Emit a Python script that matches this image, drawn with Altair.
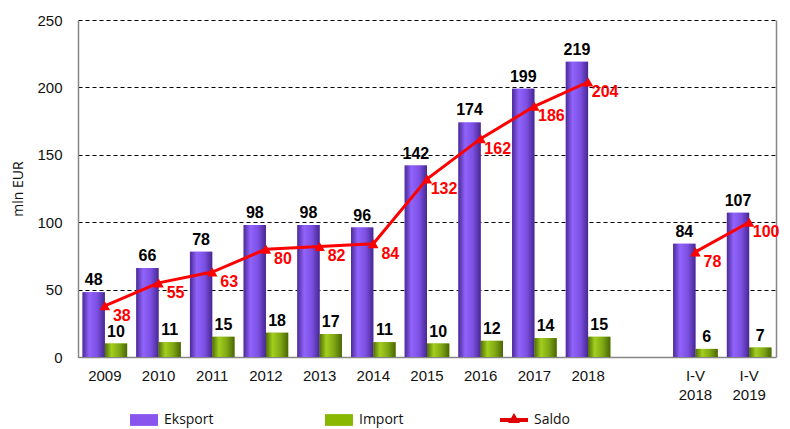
import altair as alt
import pandas as pd

categories = ["2009", "2010", "2011", "2012", "2013", "2014", "2015", "2016",
              "2017", "2018", "I-V|2018", "I-V|2019"]
periods = ["annual"] * 10 + ["I-V"] * 2
eksport = [48, 66, 78, 98, 98, 96, 142, 174, 199, 219, 84, 107]
imports = [10, 11, 15, 18, 17, 11, 10, 12, 14, 15, 6, 7]
saldo = [38, 55, 63, 80, 82, 84, 132, 162, 186, 204, 78, 100]
x_domain = categories[:10] + [" "] + categories[10:]
y_ticks = [0, 50, 100, 150, 200, 250]

bars = pd.DataFrame({
    "cat": categories * 2,
    "series": ["Eksport"] * len(categories) + ["Import"] * len(categories),
    "value": eksport + imports,
})
line = pd.DataFrame({"cat": categories, "series": "Saldo", "value": saldo, "period": periods})

FONT = "Liberation Sans"
RECT = "M-1,-0.42H1V0.42H-1Z"
SALDO_SYM = "M-1,-0.15H1V0.15H-1Z M-0.42,0.22L0,-0.5L0.42,0.22Z"

x_enc = alt.X(
    "cat:N",
    sort=x_domain,
    scale=alt.Scale(domain=x_domain, paddingInner=0.17, paddingOuter=0.085),
    axis=alt.Axis(title=None, labelExpr="split(datum.label, '|')", labelAngle=0,
                  ticks=False, domainColor="#868686", domainWidth=1.5,
                  labelFontSize=15, labelPadding=11, labelLineHeight=19,
                  labelFont=FONT, labelColor="#111"),
)
xoff = alt.XOffset("series:N", scale=alt.Scale(domain=["Eksport", "Import"], paddingInner=0, paddingOuter=0))
yscale = alt.Scale(domain=[0, 250], nice=False)

def y_plain():
    return alt.Y("value:Q", scale=yscale, axis=None)

legend_common = dict(
    orient="none", legendY=386, direction="horizontal", title=None,
    symbolSize=784, symbolStrokeWidth=0, labelFont="Open Sans", labelFontSize=14,
    labelColor="#111", labelOffset=6, padding=0,
)

color_enc = alt.Color(
    "series:N",
    scale=alt.Scale(domain=["Eksport", "Import"], range=["#8855ee", "#88b800"]),
    legend=alt.Legend(legendX=52, symbolType=RECT, columnPadding=111, **legend_common),
)

def grad(stops):
    return alt.Gradient(gradient="linear", x1=0, x2=1, y1=0, y2=0,
                        stops=[alt.GradientStop(color=c, offset=o) for o, c in stops])

base_bars = alt.Chart(bars).mark_bar().encode(
    x=x_enc, xOffset=xoff,
    y=alt.Y("value:Q", scale=yscale,
            axis=alt.Axis(title="mln EUR", values=y_ticks, grid=True, gridDash=[4, 3],
                          gridColor="#000", gridWidth=1, ticks=False, domainColor="#868686",
                          domainWidth=1.5, labelFontSize=15, labelPadding=16, labelFont=FONT,
                          labelColor="#111", titleFont="Open Sans", titleFontSize=14,
                          titleFontWeight="normal", titleColor="#111", titlePadding=11)),
    color=color_enc,
)

eks_grad = alt.Chart(bars).transform_filter("datum.series === 'Eksport'").mark_bar(
    color=grad([(0, "#4a2a96"), (0.3, "#9063fb"), (0.65, "#7d50e4"), (1, "#472890")])
).encode(x=x_enc, xOffset=xoff, y=y_plain())

imp_grad = alt.Chart(bars).transform_filter("datum.series === 'Import'").mark_bar(
    color=grad([(0, "#506e08"), (0.3, "#a2cf1e"), (0.65, "#80a814"), (1, "#4a6606")])
).encode(x=x_enc, xOffset=xoff, y=y_plain())

bar_text = alt.Chart(bars).mark_text(
    baseline="alphabetic", dy=-7, fontSize=16, fontWeight="bold", font=FONT, color="#000"
).encode(x=x_enc, xOffset=xoff, y=y_plain(), text="value:Q")

saldo_line = alt.Chart(line).mark_line(color="#ff0000", strokeWidth=3).encode(
    x=x_enc,
    y=alt.Y("value:Q", scale=yscale,
            axis=alt.Axis(orient="right", labels=False, ticks=False, grid=False, title=None,
                          domainColor="#868686", domainWidth=1.5)),
    detail="period:N",
)

saldo_pts = alt.Chart(line).mark_point(
    shape="triangle-up", filled=True, size=110, opacity=1, color="#ff0000"
).encode(x=x_enc, y=y_plain())

saldo_legend = alt.Chart(line).mark_point(filled=True, opacity=0, color="#e00000").encode(
    x=x_enc, y=y_plain(),
    shape=alt.Shape("series:N", scale=alt.Scale(domain=["Saldo"], range=[SALDO_SYM]),
                    legend=alt.Legend(legendX=422, symbolOpacity=1, symbolFillColor="#e00000",
                                      **legend_common)),
)

saldo_text = alt.Chart(line).mark_text(
    color="#ff0000", fontSize=16, fontWeight="bold", font=FONT, dx=17, dy=10,
    align="center", baseline="middle"
).encode(x=x_enc, y=y_plain(), text="value:Q")

chart = alt.layer(
    base_bars, eks_grad, imp_grad, bar_text, saldo_line, saldo_pts, saldo_legend, saldo_text
).resolve_axis(y="independent").properties(
    width=698, height=337,
    autosize=alt.AutoSizeParams(type="none"),
    padding={"left": 70, "top": 12, "right": 6, "bottom": 72},
).configure_view(stroke=None)

chart.save("out.html", embed_options={"renderer": "svg", "actions": False})
